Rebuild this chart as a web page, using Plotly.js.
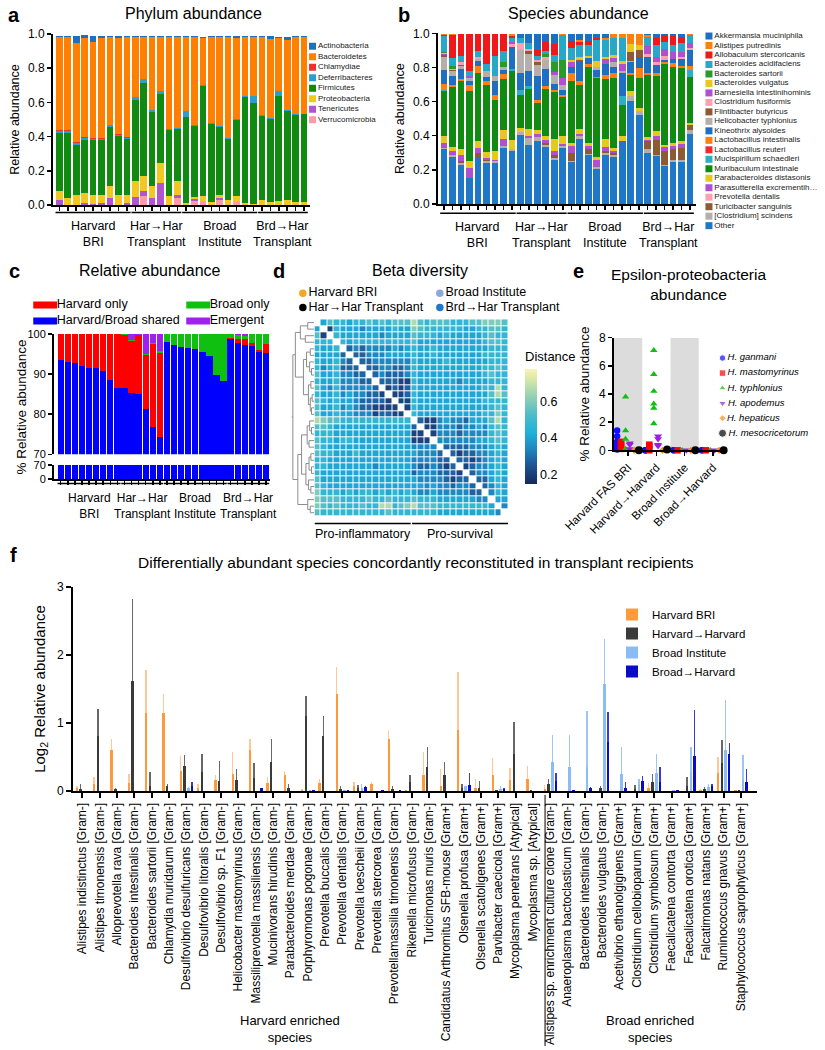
<!DOCTYPE html>
<html>
<head>
<meta charset="utf-8">
<script src="https://cdn.plot.ly/plotly-3.0.1.min.js"></script>
<style>
  html, body { margin: 0; padding: 0; background: #fff; }
  #chart { width: 825px; height: 1050px; }
</style>
</head>
<body>
<div id="chart"></div>
<script>
const W = 825, H = 1050;
const FONT = 'Liberation Sans, Arial, sans-serif';

// ---------- shared sample groups (a, b, c) ----------
const groupSizes = [9, 6, 9, 6];
const groupNames = ['Harvard<br>BRI', 'Har→Har<br>Transplant', 'Broad<br>Institute', 'Brd→Har<br>Transplant'];
const samples = Array.from({length: 30}, (_, i) => i + 1);

// ---------- a: phylum abundance (bottom of stack first) ----------
const phylumNames = ['Verrucomicrobia', 'Tenericutes', 'Proteobacteria', 'Firmicutes', 'Deferribacteres', 'Chlamydiae', 'Bacteroidetes', 'Actinobacteria'];
const phylumColors = ['#ff9aa8', '#b055d0', '#f0c820', '#108a10', '#2aa0c8', '#f03030', '#ff8000', '#1f6fc0'];
const verrucomicrobia = [0,0,0,0,0,0,0,0,0, 0,0.05,0,0,0,0.04, 0,0.025,0.025,0,0.03,0,0.02,0,0, 0,0,0,0,0,0];
const tenericutes = [0.03,0,0,0.01,0.005,0.01,0.04,0,0.01, 0.045,0.03,0.04,0.13,0,0.02, 0,0.01,0,0,0.01,0,0,0,0, 0,0,0,0,0,0];
const proteobacteria = [0.05,0.04,0.06,0.06,0.055,0.05,0.07,0.06,0.05, 0.095,0.09,0.07,0.115,0.05,0.08, 0.01,0.01,0.025,0.015,0.02,0.03,0.03,0.01,0.005, 0.03,0.02,0.025,0.03,0.015,0.02];
const firmicutes = [0.34,0.38,0.29,0.31,0.32,0.32,0.345,0.345,0.325, 0.475,0.545,0.435,0.405,0.39,0.305, 0.505,0.415,0.645,0.46,0.395,0.355,0.45,0.62,0.59, 0.49,0.485,0.615,0.52,0.51,0.51];
const deferribacteres = [0.01,0.01,0.01,0.01,0.005,0.005,0.01,0.005,0.005, 0.015,0.02,0.01,0.015,0.005,0.005, 0.035,0.005,0.005,0.005,0.005,0.005,0.005,0.005,0.045, 0.005,0.005,0.025,0.005,0.005,0.005];
const chlamydiae = [0.01,0.01,0.01,0.005,0.005,0.005,0.005,0.005,0.005, 0,0,0,0,0,0, 0,0,0,0,0,0,0,0,0, 0,0,0,0,0,0];
const bacteroidetes = [0.54,0.54,0.575,0.58,0.565,0.585,0.51,0.56,0.585, 0.35,0.245,0.425,0.32,0.54,0.535, 0.435,0.52,0.275,0.505,0.525,0.595,0.47,0.35,0.345, 0.46,0.46,0.31,0.41,0.455,0.45];
const actinobacteria = [0.01,0.01,0.045,0.02,0.035,0.015,0.01,0.015,0.01, 0.01,0.01,0.01,0.005,0.005,0.005, 0.005,0.005,0.01,0.005,0.005,0.005,0.015,0.005,0.005, 0.005,0.02,0.01,0.015,0.005,0.005];
const phylumValues = [verrucomicrobia, tenericutes, proteobacteria, firmicutes, deferribacteres, chlamydiae, bacteroidetes, actinobacteria];

// ---------- b: species abundance (bottom of stack first) ----------
const speciesNames = ['Other', '[Clostridium] scindens', 'Turicibacter sanguinis', 'Prevotella dentalis', 'Parasutterella excrementih…',
  'Parabacteroides distasonis', 'Muribaculum intestinale', 'Mucispirillum schaedleri', 'Lactobacillus reuteri', 'Lactobacillus intestinalis',
  'Kineothrix alysoides', 'Helicobacter typhlonius', 'Flintibacter butyricus', 'Clostridium fusiformis', 'Barnesiella intestinihominis',
  'Bacteroides vulgatus', 'Bacteroides sartorii', 'Bacteroides acidifaciens', 'Allobaculum stercoricanis', 'Alistipes putredinis', 'Akkermansia muciniphila'];
const speciesColors = ['#1f77c8', '#b4aeac', '#8c5a34', '#ffa0b0', '#b04fd0', '#e8c81c', '#108a10', '#2ab0c0', '#ee2a2a', '#ff8010',
  '#1f6fc0', '#b4aeac', '#8c5a34', '#ffa0b0', '#b04fd0', '#e8c81c', '#2a9a2a', '#28a8c8', '#f01818', '#ff8010', '#1f6fc0'];
const spOther = [.32,.275,.23,.15,.27,.24,.24,.33,.31, .405,.345,.37,.335,.26,.33, .245,.38,.29,.205,.29,.275,.365,.605,.52, .30,.28,.22,.245,.245,.41];
const spScindens = [.01,.01,.01,.005,0,.01,.01,.01,.01, .015,.04,.02,.01,.01,.01, .005,.02,.005,.01,.01,.015,0,.025,.025, .02,.01,.01,.01,.01,.025];
const spTuricibacter = [0,.005,.01,0,.03,.005,0,0,0, 0,0,0,.015,.02,0, .05,0,.03,0,.01,.01,.005,0,0, .05,.085,.08,.065,.075,.025];
const spPrevotellaDentalis = [0,0,0,0,0,0,0,0,0, 0,0,0,0,0,0, 0,0,0,0,0,0,0,0,0, 0,0,0,0,0,0];
const spParasutterella = [.025,.02,.035,.055,.03,.015,.01,.04,0, 0,.015,.02,.015,.02,.01, .04,.01,.015,.04,.025,.01,0,0,0, .005,.025,.025,.02,.02,0];
const spParabacteroides = [.045,.025,.04,.04,.04,.035,.05,.055,.055, .025,.04,.025,.025,.07,.05, .015,.03,.015,.02,.045,.02,.03,.03,.015, .015,.03,.01,.015,.02,.015];
const spMuribaculum = [.26,.35,.395,.41,.395,.395,.30,.30,.405, .195,.235,.155,.275,.275,.225, .365,.26,.445,.465,.355,.41,.18,.095,.18, .365,.32,.475,.445,.425,.27];
const spMucispirillum = [.005,0,0,0,0,0,0,0,.01, .025,.015,0,0,0,0, 0,0,0,0,0,0,.05,0,0, 0,0,0,0,0,.04];
const spLReuteri = [0,0,0,0,0,0,0,0,0, 0,0,0,0,0,0, 0,0,0,0,0,0,0,0,0, 0,0,0,0,0,0];
const spLIntestinalis = [.04,.01,.015,.04,.045,.02,.03,.025,0, 0,0,.02,.015,.01,.015, .045,.02,.02,.005,.02,.025,0,.01,.055, .015,.015,.01,.025,.015,.025];
const spKineothrix = [.08,.055,.055,.02,.03,.025,.08,.025,.13, .10,.09,.14,.10,.04,.025, .035,.11,.035,.04,.065,.035,.135,.065,.065, .09,.05,.015,.025,.04,.095];
const spHelicobacter = [.075,.03,.02,.02,.01,.035,.03,.015,0, .135,.10,.065,.055,.05,.035, 0,0,0,.015,0,.03,.015,.01,0, 0,0,0,0,0,0];
const spFlintibacter = [.01,.005,.005,0,0,0,0,0,0, 0,.015,.015,0,0,0, 0,.015,0,0,0,0,0,.05,.04, 0,0,0,0,0,0];
const spCFusiformis = [.005,.005,.015,0,.01,0,0,0,.02, .045,.015,.015,.015,0,0, 0,0,0,0,0,0,0,0,0, .02,.015,.02,0,.01,.01];
const spBarnesiella = [.005,0,0,.01,0,0,0,0,.01, 0,0,0,0,.02,.04, .03,0,0,0,.03,.025,.04,0,0, .045,.03,.045,.04,.03,.03];
const spBVulgatus = [.005,0,0,0,0,0,0,0,0, 0,0,0,0,0,0, .015,.015,.01,.04,.01,.015,.015,.05,.03, 0,0,0,0,0,0];
const spBSartorii = [.005,.02,0,0,0,0,0,.03,0, 0,0,0,.02,.055,.105, 0,0,0,0,0,0,0,0,0, 0,0,0,0,0,0];
const spBAcidifaciens = [.095,.045,.035,.03,.035,.04,.115,.065,.025, .03,.035,.02,.015,.04,.145, .07,.07,.065,.12,.10,.105,.14,0,0, .055,.07,.04,.04,.055,.045];
const spAllobaculum = [.005,.135,.13,.215,.10,.175,.13,.10,.01, 0,0,.035,.055,.065,0, .04,.02,.025,.015,0,0,0,0,0, 0,.045,.04,.055,.035,0];
const spAlistipes = [.005,.005,0,0,0,0,0,0,.01, 0,0,0,0,0,.005, 0,.01,0,0,.015,.02,.02,.055,.065, .01,0,0,0,0,.005];
const spAkkermansia = [0,0,0,0,0,0,0,0,0, .02,.05,.095,.045,.06,0, .04,.035,.04,.02,.02,0,0,0,0, .005,.02,.005,.01,.015,0];
const speciesValues = [spOther, spScindens, spTuricibacter, spPrevotellaDentalis, spParasutterella, spParabacteroides, spMuribaculum,
  spMucispirillum, spLReuteri, spLIntestinalis, spKineothrix, spHelicobacter, spFlintibacter, spCFusiformis, spBarnesiella,
  spBVulgatus, spBSartorii, spBAcidifaciens, spAllobaculum, spAlistipes, spAkkermansia];

// ---------- c: relative abundance by origin (%) ----------
const originNames = ['Harvard/Broad shared', 'Harvard only', 'Broad only', 'Emergent'];
const originColors = ['#0000ff', '#ff0000', '#10c010', '#a020f0'];
const sharedC = [93.5,92.9,92.8,91.9,91.5,91.4,90.7,88.5,86.6, 86.6,85.4,85.0,81.2,76.8,74.4, 98.1,97.3,96.7,96.4,96.3,95.6,94.6,89.9,88.2, 98.8,97.7,97.2,96.9,95.5,95.3];
const harvardOnlyC = [6.5,7.1,7.2,8.1,8.5,8.6,9.3,11.5,13.4, 13.1,12.8,14.7,13.6,20.7,20.9, 0,0,0,0,0,0,0,0,0, 0.3,1.1,1.6,0.9,0.6,2.2];
const broadOnlyC = [0,0,0,0,0,0,0,0,0, 0.3,0.4,0,0.3,0.3,0.4, 1.9,2.7,3.3,3.6,3.7,4.4,5.4,10.1,11.8, 0.9,1.0,0.7,2.2,3.9,2.5];
const emergentC = [0,0,0,0,0,0,0,0,0, 0,1.4,0.3,4.9,2.2,4.3, 0,0,0,0,0,0,0,0,0, 0,0.2,0.5,0,0,0];
const originValues = [sharedC, harvardOnlyC, broadOnlyC, emergentC];

// ---------- d: beta diversity ----------
const cohortNames = ['Harvard BRI', 'Broad Institute', 'Har→Har Transplant', 'Brd→Har Transplant'];
const cohortColors = ['#f5a623', '#8fa6dc', '#000000', '#1f78c8'];
// cohort index for each row/column of the distance matrix (0 BRI, 1 Broad, 2 Har→Har, 3 Brd→Har)
const sampleCohort = [2,2,2,2,2,0,2,0,0,0,0,0,0,0,0, 3,3,3,3,1,1,1,1,1,1,3,3,1,1,1];
// distance level per cell (upper triangle read), value = 0.15 + 0.065 * digit
const distRows = [
  '-4655 45565 65666 86566 65556 67776',
  '.-154 44344 44544 76555 55544 55665',
  '..-54 44444 34444 65554 54444 45655',
  '...-5 45555 55555 64444 44444 45665',
  '....- 23233 33434 54454 44444 44555',
  '..... -2233 34444 54454 44444 45555',
  '..... .-223 33333 54444 54444 44555',
  '..... ..-22 33223 54444 44444 45565',
  '..... ...-2 32223 54444 44444 45655',
  '..... ....- 22211 54444 44344 44555',
  '..... ..... -1212 54444 44444 45585',
  '..... ..... .-112 54444 44444 44686',
  '..... ..... ..-11 54444 44444 45555',
  '..... ..... ...-1 54444 44444 44565',
  '..... ..... ....- 54444 44444 45575',
  '..... ..... ..... -2113 43324 44685',
  '..... ..... ..... .-113 33233 43565',
  '..... ..... ..... ..-13 33233 33565',
  '..... ..... ..... ...-3 33333 44565',
  '..... ..... ..... ....- 22223 33454',
  '..... ..... ..... ..... -2122 33454',
  '..... ..... ..... ..... .-221 23454',
  '..... ..... ..... ..... ..-12 33454',
  '..... ..... ..... ..... ...-2 33454',
  '..... ..... ..... ..... ....- 22454',
  '..... ..... ..... ..... ..... -2354',
  '..... ..... ..... ..... ..... .-354',
  '..... ..... ..... ..... ..... ..-44',
  '..... ..... ..... ..... ..... ...-3',
  '..... ..... ..... ..... ..... ....-'
];
// dendrogram: [left, right, height]
const dendroTree = [
  [
    [[0, 1, 0.10], [2, 3, 0.14], 0.22],
    [[[4, 5, 0.06], [6, [7, 8, 0.04], 0.07], 0.12], [[9, 10, 0.05], [[11, 12, 0.03], [13, 14, 0.04], 0.06], 0.09], 0.17],
    0.30
  ],
  [
    [[[15, [16, 17, 0.04], 0.07], [18, 19, 0.08], 0.11], [[[20, 21, 0.05], [22, 23, 0.04], 0.08], [24, [25, 26, 0.05], 0.09], 0.13], 0.20],
    [27, [28, 29, 0.06], 0.10],
    0.26
  ],
  0.34
];

// ---------- e: epsilon-proteobacteria ----------
const epsGroups = ['Harvard FAS BRI', 'Harvard→Harvard', 'Broad Institute', 'Broad→Harvard'];
const epsSpecies = ['H. ganmani', 'H. mastomyrinus', 'H. typhlonius', 'H. apodemus', 'H. hepaticus', 'H. mesocricetorum'];
const epsColors = ['#1010ff', '#ff0000', '#10c010', '#9a1fe0', '#ff8c1a', '#000000'];
const epsSymbols = ['circle', 'square', 'triangle-up', 'triangle-down', 'diamond', 'circle'];
const epsSizes = [6.5, 6.5, 6.5, 7, 5.5, 8];
const ganmani = [[1.4, 1.0, 0.6, 0.4, 0.2, 0.05], [0, 0, 0], [0, 0], [0, 0]];
const mastomyrinus = [[0.6, 0.5, 0.3, 0.1], [0.4, 0.3, 0], [0], [0]];
const typhlonius = [[3.8, 1.4, 0.8, 0.1, 0], [7.1, 5.4, 4.2, 3.3, 3.0, 1.9], [0], [0]];
const apodemus = [[0.5, 0.4, 0.1], [1.0, 0.8, 0.4, 0.3], [0], [0]];
const hepaticus = [[0], [0], [0], [0]];
const mesocricetorum = [[0], [0.05], [0], [0]];
const epsValues = [ganmani, mastomyrinus, typhlonius, apodemus, hepaticus, mesocricetorum];

// ---------- f: differentially abundant species ----------
const diffSpecies = ['Alistipes indistinctus [Gram-]', 'Alistipes timonensis [Gram-]', 'Alloprevotella rava [Gram-]', 'Bacteroides intestinalis [Gram-]',
  'Bacteroides sartorii [Gram-]', 'Chlamydia muridarum [Gram-]', 'Desulfovibrio desulfuricans [Gram-]', 'Desulfovibrio litoralis [Gram-]',
  'Desulfovibrio sp. F1 [Gram-]', 'Helicobacter mastomyrinus [Gram-]', 'Massiliprevotella massiliensis [Gram-]', 'Mucinivorans hirudinis [Gram-]',
  'Parabacteroides merdae [Gram-]', 'Porphyromonas pogonae [Gram-]', 'Prevotella buccalis [Gram-]', 'Prevotella dentalis [Gram-]',
  'Prevotella loescheii [Gram-]', 'Prevotella stercorea [Gram-]', 'Prevotellamassilia timonensis [Gram-]', 'Rikenella microfusus [Gram-]',
  'Turicimonas muris [Gram-]', 'Candidatus Arthromitus SFB-mouse [Gram+]', 'Olsenella profusa [Gram+]', 'Olsenella scatoligenes [Gram+]',
  'Parvibacter caecicola [Gram+]', 'Mycoplasma penetrans [Atypical]', 'Mycoplasma sp. [Atypical]',
  'Alistipes sp. enrichment culture clone [Gram-]', 'Anaeroplasma bactoclasticum [Gram-]', 'Bacteroides intestinalis [Gram-]',
  'Bacteroides vulgatus [Gram-]', 'Acetivibrio ethanolgignens [Gram+]', 'Clostridium cellobioparum [Gram+]', 'Clostridium symbiosum [Gram+]',
  'Faecalicatena contorta [Gram+]', 'Faecalicatena orotica [Gram+]', 'Falcatimonas natans [Gram+]', 'Ruminococcus gnavus [Gram+]',
  'Staphylococcus saprophyticus [Gram+]'];
const diffSeries = ['Harvard BRI', 'Harvard→Harvard', 'Broad Institute', 'Broad→Harvard'];
const diffColors = ['#ff9a3c', '#3a3a3a', '#8cbcf5', '#0a0ac8'];
const diffErrColors = ['rgba(255,154,60,0.55)', 'rgba(40,40,40,0.7)', 'rgba(140,188,245,0.85)', 'rgba(10,10,200,0.8)'];
const briMean = [.05,.11,.61,.12,1.14,1.15,.30,.05,.16,.25,.60,.12,.23,.02,.12,1.43,.07,.10,.76,.01,.24,.07,.90,.05,.24,.16,.17, .03,0,0,0,0,0,.05,0,0,.02,.26,.01];
const briErr = [.03,.09,.16,.13,.64,.28,.22,.06,.08,.33,.16,.08,.07,.01,.05,.39,.06,.03,.14,0,.34,.25,.85,.12,.24,.18,.20, .06,0,0,0,0,0,.07,0,0,.01,.24,.01];
const harHarMean = [.03,.81,.03,1.62,.07,.07,.37,.28,.14,.16,.19,.42,.05,1.11,.81,.03,.05,0,.03,.13,.35,.24,.05,.04,.02,.55,.02, .10,0,0,.04,0,.03,.13,0,.07,.03,.41,.01];
const harHarErr = [.07,.39,.02,1.20,.21,.04,.16,.27,.30,.16,.22,.35,.05,.28,.29,.05,.04,0,.04,.10,.29,.18,.06,.10,0,.47,0, .07,0,0,.03,0,.06,.12,0,.14,.03,.34,0];
const broadMean = [0,0,0,0,0,0,.05,0,0,0,0,0,0,.02,0,.01,.05,0,0,0,0,0,.07,0,.03,0,0, .43,.36,.35,1.57,.25,.11,.26,.01,.28,.06,.61,.16];
const broadErr = [0,0,0,0,0,0,.01,0,0,0,0,0,0,0,0,0,.05,0,0,0,0,0,0,0,.04,0,0, .40,.47,.82,.67,.40,.07,.28,0,.37,.04,.73,.37];
const brdHarMean = [0,0,0,0,0,0,.07,0,0,0,.05,0,0,.02,0,.02,.06,.02,.01,0,0,0,.09,0,.03,0,0, .15,.01,.05,.72,.04,.14,.13,.01,.52,.07,.54,.13];
const brdHarErr = [0,0,0,0,0,0,.06,0,0,0,0,0,0,0,0,0,.02,0,0,0,0,0,.17,0,.01,0,0, .11,0,.01,.44,.09,.08,.22,.01,.67,.04,.17,.20];
const diffMeans = [briMean, harHarMean, broadMean, brdHarMean];
const diffErrs = [briErr, harHarErr, broadErr, brdHarErr];
const diffOffsets = [-0.32, -0.1, 0.12, 0.33];
const harvardEnrichedCount = 27;

// ---------- helpers ----------
const px = p => p / W;
const py = p => 1 - p / H;
const dx = (l, r) => [px(l), px(r)];
const dy = (t, b) => [py(b), py(t)];

function axisLine(extra) {
  return Object.assign({
    showgrid: false, zeroline: false, showline: true, linecolor: '#000', linewidth: 2,
    ticks: 'outside', tickcolor: '#000', tickwidth: 1.5, ticklen: 4,
    tickfont: {size: 12, color: '#000'}, fixedrange: true
  }, extra);
}
function hiddenAxis(extra) {
  return Object.assign({visible: false, fixedrange: true, showgrid: false, zeroline: false}, extra);
}

const traces = [];
const shapes = [];
const annotations = [];

// stacked bars for panels a, b, c
function stackTraces(values, colors, xa, ya, width) {
  values.forEach((v, k) => {
    traces.push({type: 'bar', x: samples, y: v, xaxis: xa, yaxis: ya, width: width,
      marker: {color: colors[k], line: {width: 0}}, showlegend: false, hoverinfo: 'skip'});
  });
}
stackTraces(phylumValues, phylumColors, 'x', 'y', 0.78);
stackTraces(speciesValues, speciesColors, 'x2', 'y2', 0.8);
stackTraces(originValues, originColors, 'x3', 'y3', 0.9);
traces.push({type: 'bar', x: samples, y: sharedC, xaxis: 'x4', yaxis: 'y4', width: 0.9,
  marker: {color: originColors[0]}, showlegend: false, hoverinfo: 'skip'});

// group brackets and labels under a, b, c
function groupDecor(xref, lineY, labelY, size) {
  let start = 1;
  groupSizes.forEach((n, i) => {
    const end = start + n - 1;
    shapes.push({type: 'line', xref: xref, yref: 'paper', x0: start - 0.45, x1: end + 0.45, y0: py(lineY), y1: py(lineY),
      line: {color: '#000', width: 1.5}});
    annotations.push({xref: xref, yref: 'paper', x: (start + end) / 2, y: py(labelY), yanchor: 'top', showarrow: false,
      text: groupNames[i], font: {size: size}});
    start = end + 1;
  });
}
groupDecor('x', 212.5, 217, 12.5);
groupDecor('x2', 213.3, 218, 12.5);
groupDecor('x4', 483.5, 488.5, 12);

// custom compact keys (row-major grid)
function keyTrace(axisNum, names, colors, opt) {
  const nCols = opt.cols || 1;
  const xs = [], ys = [];
  names.forEach((_, k) => { xs.push(k % nCols + opt.mx); ys.push(Math.floor(k / nCols)); });
  const marker = {color: colors, symbol: opt.symbols || 'square', size: opt.size || 8};
  if (opt.lineSwatch) {
    marker.line = {color: colors, width: opt.lineSwatch};
  }
  traces.push({type: 'scatter', mode: 'markers+text', x: xs, y: ys, text: names.map(t => opt.italic ? '<i>' + t + '</i>' : t),
    textposition: 'middle right', textfont: {size: opt.font, color: opt.textColor || '#000'},
    marker: marker, cliponaxis: false, showlegend: false, hoverinfo: 'skip',
    xaxis: 'x' + axisNum, yaxis: 'y' + axisNum});
  const nRows = Math.ceil(names.length / nCols);
  return {
    x: hiddenAxis({domain: opt.domX, range: [0, nCols], anchor: 'y' + axisNum}),
    y: hiddenAxis({domain: opt.domY, range: [nRows - 0.5, -0.5], anchor: 'x' + axisNum})
  };
}
const keyA = keyTrace(9, phylumNames.slice().reverse(), phylumColors.slice().reverse(),
  {mx: 0.057, font: 8, size: 7, textColor: '#222', domX: dx(307, 404), domY: dy(41, 125)});
const keyB = keyTrace(10, speciesNames.slice().reverse(), speciesColors.slice().reverse(),
  {mx: 0.041, font: 8, size: 7, textColor: '#222', domX: dx(704, 825), domY: dy(31.3, 230.4)});
const keyCOrder = [1, 2, 0, 3];
const keyC = keyTrace(11, keyCOrder.map(k => originNames[k]), keyCOrder.map(k => originColors[k]),
  {cols: 2, mx: 0.05, font: 12.5, symbols: 'line-ew', size: 17, lineSwatch: 7, domX: dx(37.5, 343.5), domY: dy(297, 329)});
const keyD = keyTrace(12, cohortNames, cohortColors,
  {cols: 2, mx: 0.05, font: 12.5, symbols: 'circle', size: 7.5, domX: dx(296, 570), domY: dy(286, 314.6)});
const keyE = keyTrace(13, epsSpecies, epsColors,
  {mx: 0.06, font: 9.5, italic: true, symbols: epsSymbols, size: epsSizes, domX: dx(716, 825), domY: dy(350.5, 440.8)});

// ---------- d: heatmap, dots, dendrogram ----------
const cells = distRows.map(r => r.replace(/ /g, ''));
const n = cells.length;
const z = [];
for (let i = 0; i < n; i++) {
  const row = [];
  for (let j = 0; j < n; j++) {
    if (i === j) { row.push(null); continue; }
    const ch = i < j ? cells[i][j] : cells[j][i];
    row.push(0.15 + 0.065 * Number(ch));
  }
  z.push(row);
}
const idx = Array.from({length: n}, (_, i) => i);
traces.push({type: 'heatmap', z: z, x: idx, y: idx, xaxis: 'x5', yaxis: 'y5', xgap: 1, ygap: 1,
  zmin: 0.15, zmax: 0.78, hoverinfo: 'skip',
  colorscale: [[0, '#152a5c'], [0.15, '#1f4f8f'], [0.3, '#1d86bf'], [0.45, '#1fb2d9'], [0.6, '#4dbcc8'],
    [0.75, '#8ecfb5'], [0.9, '#d4e6a8'], [1, '#fbf3b5']],
  colorbar: {x: px(525), xanchor: 'left', xpad: 0, y: py(416), yanchor: 'middle', ypad: 0, len: 135, lenmode: 'pixels',
    thickness: 12, outlinewidth: 0, tickvals: [0.2, 0.4, 0.6], ticks: '', tickfont: {size: 12.5},
    title: {text: 'Distance', side: 'top', font: {size: 13}}}});
const dotColors = sampleCohort.map(c => cohortColors[c]);
traces.push({type: 'scatter', mode: 'markers', x: idx.map(() => 29.95), y: idx, xaxis: 'x5', yaxis: 'y5',
  marker: {color: dotColors, size: 5.8}, cliponaxis: false, showlegend: false, hoverinfo: 'skip'});
traces.push({type: 'scatter', mode: 'markers', x: idx, y: idx.map(() => 29.95), xaxis: 'x5', yaxis: 'y5',
  marker: {color: dotColors, size: 5.8}, cliponaxis: false, showlegend: false, hoverinfo: 'skip'});

const dendX = [], dendY = [];
function walk(node) {
  if (typeof node === 'number') return {y: node, h: 0};
  const a = walk(node[0]), b = walk(node[1]), h = node[2];
  dendX.push(a.h, h, h, b.h, null);
  dendY.push(a.y, a.y, b.y, b.y, null);
  return {y: (a.y + b.y) / 2, h: h};
}
const root = walk(dendroTree);
dendX.push(root.h, root.h + 0.02); dendY.push(root.y, root.y);
traces.push({type: 'scatter', mode: 'lines', x: dendX, y: dendY, xaxis: 'x6', yaxis: 'y6',
  line: {color: '#8c8c8c', width: 1}, showlegend: false, hoverinfo: 'skip', connectgaps: false});

shapes.push({type: 'line', xref: 'x5', yref: 'paper', x0: -0.5, x1: 14.4, y0: py(523.5), y1: py(523.5), line: {color: '#000', width: 1.5}});
shapes.push({type: 'line', xref: 'x5', yref: 'paper', x0: 14.6, x1: 29.5, y0: py(523.5), y1: py(523.5), line: {color: '#000', width: 1.5}});
annotations.push({xref: 'x5', yref: 'paper', x: 7, y: py(524.5), yanchor: 'top', showarrow: false, text: 'Pro-inflammatory', font: {size: 12.5}});
annotations.push({xref: 'x5', yref: 'paper', x: 22, y: py(524.5), yanchor: 'top', showarrow: false, text: 'Pro-survival', font: {size: 12.5}});

// ---------- e: dot plot ----------
const epsOffsets = [-0.39, -0.25, -0.09, 0.06, 0.22, 0.38];
epsValues.forEach((groups, s) => {
  const xs = [], ys = [];
  groups.forEach((vals, g) => vals.forEach(v => { xs.push(g + epsOffsets[s]); ys.push(v); }));
  traces.push({type: 'scatter', mode: 'markers', x: xs, y: ys, xaxis: 'x7', yaxis: 'y7', cliponaxis: false,
    marker: {color: epsColors[s], symbol: epsSymbols[s], size: epsSizes[s]}, showlegend: false, hoverinfo: 'skip'});
});
[0, 2].forEach(g => shapes.push({type: 'rect', xref: 'x7', yref: 'y7', x0: g - 0.5, x1: g + 0.5, y0: 0, y1: 8,
  fillcolor: '#dcdcdc', line: {width: 0}, layer: 'below'}));

// ---------- f: grouped bars with error bars ----------
const diffIdx = diffSpecies.map((_, i) => i);
diffSeries.forEach((name, k) => {
  traces.push({type: 'bar', name: name, x: diffIdx.map(i => i + diffOffsets[k]), y: diffMeans[k], width: 0.14,
    xaxis: 'x8', yaxis: 'y8', marker: {color: diffColors[k], line: {width: 0}},
    error_y: {type: 'data', symmetric: false, array: diffErrs[k], arrayminus: diffErrs[k].map(() => 0),
      color: diffErrColors[k], thickness: 1.4, width: 0},
    hoverinfo: 'skip', showlegend: true});
});
shapes.push({type: 'line', xref: 'x8', yref: 'paper', x0: harvardEnrichedCount - 0.3, x1: harvardEnrichedCount - 0.3,
  y0: py(795), y1: py(1046), line: {color: '#000', width: 1}});
annotations.push({xref: 'x8', yref: 'paper', x: 12, y: py(1011), yanchor: 'top', showarrow: false, text: 'Harvard enriched<br>species', font: {size: 13}});
annotations.push({xref: 'x8', yref: 'paper', x: 32.75, y: py(1011), yanchor: 'top', showarrow: false, text: 'Broad enriched<br>species', font: {size: 13}});

// ---------- titles and panel letters ----------
const titleText = [
  ['Phylum abundance', 193, 13, 16],
  ['Species abundance', 578, 13, 16],
  ['Relative abundance', 150, 270, 16],
  ['Beta diversity', 420, 270, 16],
  ['Epsilon-proteobacteria<br>abundance', 688, 284, 15.5],
  ['Differentially abundant species concordantly reconstituted in transplant recipients', 416, 562, 15.5]
];
titleText.forEach(t => annotations.push({xref: 'paper', yref: 'paper', x: px(t[1]), y: py(t[2]), xanchor: 'center', yanchor: 'middle',
  showarrow: false, text: t[0], font: {size: t[3]}}));
const letters = [['a', 14, 15], ['b', 404, 15], ['c', 14, 271], ['d', 279, 271], ['e', 578, 271], ['f', 13, 555]];
letters.forEach(l => annotations.push({xref: 'paper', yref: 'paper', x: px(l[1]), y: py(l[2]), xanchor: 'center', yanchor: 'middle',
  showarrow: false, text: '<b>' + l[0] + '</b>', font: {size: 20}}));
annotations.push({xref: 'paper', yref: 'paper', x: px(11), y: py(407), textangle: -90, showarrow: false,
  text: '% Relative abundance', font: {size: 13.5}});

const layout = {
  width: W, height: H, margin: {l: 0, r: 0, t: 0, b: 0},
  paper_bgcolor: '#fff', plot_bgcolor: 'rgba(0,0,0,0)',
  font: {family: FONT, color: '#000', size: 12},
  barmode: 'stack', showlegend: true,
  legend: {x: px(612), y: py(600), xanchor: 'left', yanchor: 'top', font: {size: 11.5}, bgcolor: 'rgba(0,0,0,0)', traceorder: 'normal'},
  xaxis: axisLine({domain: dx(53, 310), range: [0.25, 30.7], anchor: 'y', tickvals: samples, showticklabels: false}),
  yaxis: axisLine({domain: dy(34, 205), range: [0, 1], anchor: 'x', dtick: 0.2, tickformat: '.1f',
    title: {text: 'Relative abundance', font: {size: 12.5}, standoff: 6}}),
  xaxis2: axisLine({domain: dx(438, 696), range: [0.29, 30.7], anchor: 'y2', tickvals: samples, showticklabels: false}),
  yaxis2: axisLine({domain: dy(33.3, 204), range: [0, 1], anchor: 'x2', dtick: 0.2, tickformat: '.1f',
    title: {text: 'Relative abundance', font: {size: 12.5}, standoff: 6}}),
  xaxis3: hiddenAxis({domain: dx(54, 270), range: [0.05, 30.56], anchor: 'y3'}),
  yaxis3: axisLine({domain: dy(334, 454.3), range: [70, 100], anchor: 'x3', tickvals: [70, 80, 90, 100], tickfont: {size: 11}}),
  xaxis4: axisLine({domain: dx(54, 270), range: [0.05, 30.56], anchor: 'y4', tickvals: samples, showticklabels: false}),
  yaxis4: axisLine({domain: dy(465, 479), range: [0, 70], anchor: 'x4', tickvals: [0, 70], tickfont: {size: 11}}),
  xaxis5: hiddenAxis({domain: dx(314.5, 508.3), range: [-0.5, 29.5], anchor: 'y5'}),
  yaxis5: hiddenAxis({domain: dy(319.3, 516), range: [29.5, -0.5], anchor: 'x5'}),
  xaxis6: hiddenAxis({domain: dx(291, 314), range: [0.37, 0], anchor: 'y6'}),
  yaxis6: hiddenAxis({domain: dy(319.3, 516), range: [29.5, -0.5], anchor: 'x6'}),
  xaxis7: axisLine({domain: dx(614, 727), range: [-0.5, 3.5], anchor: 'y7', tickvals: [0, 1, 2, 3], ticktext: epsGroups,
    tickangle: -45, tickfont: {size: 11.5}}),
  yaxis7: axisLine({domain: dy(337.7, 450.3), range: [0, 8], dtick: 2, anchor: 'x7',
    title: {text: '% Relative abundance', font: {size: 13.5}, standoff: 6}}),
  xaxis8: axisLine({domain: dx(73, 757), range: [-0.54, 38.93], anchor: 'y8', tickvals: diffIdx, ticktext: diffSpecies,
    tickangle: -90, tickfont: {size: 12}, tickwidth: 2, ticklen: 5}),
  yaxis8: axisLine({domain: dy(587, 791), range: [0, 3], dtick: 1, anchor: 'x8', tickwidth: 2, ticklen: 5,
    title: {text: 'Log<sub>2</sub> Relative abundance', font: {size: 15}, standoff: 8}}),
  xaxis9: keyA.x, yaxis9: keyA.y,
  xaxis10: keyB.x, yaxis10: keyB.y,
  xaxis11: keyC.x, yaxis11: keyC.y,
  xaxis12: keyD.x, yaxis12: keyD.y,
  xaxis13: keyE.x, yaxis13: keyE.y,
  shapes: shapes,
  annotations: annotations
};

Plotly.newPlot('chart', traces, layout, {staticPlot: true, displayModeBar: false});
</script>
</body>
</html>
